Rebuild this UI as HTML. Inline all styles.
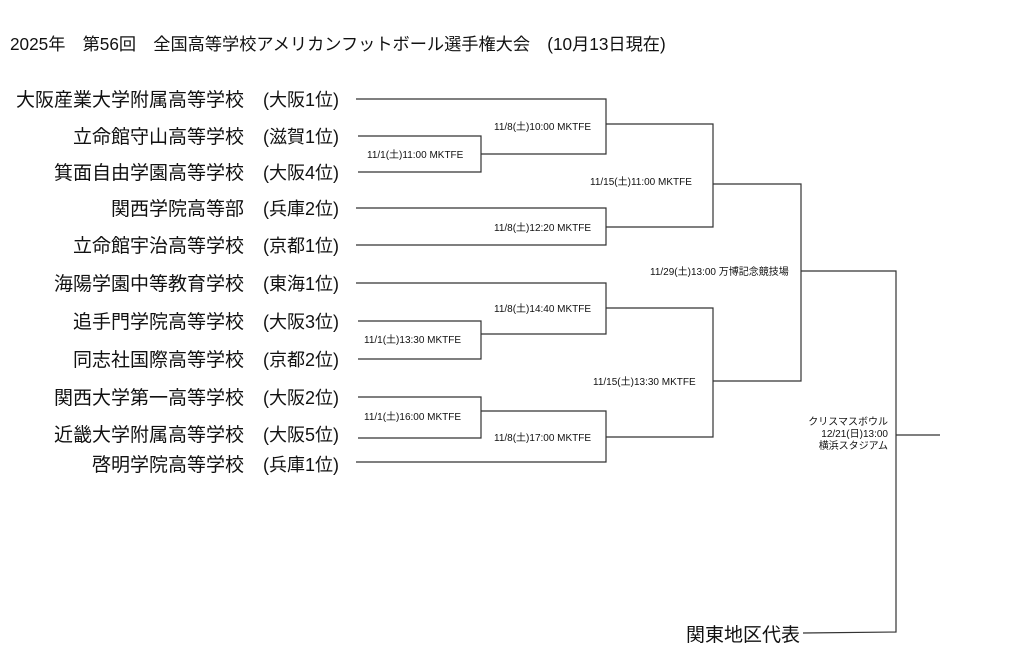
<!DOCTYPE html>
<html><head><meta charset="utf-8"><style>
html,body{margin:0;padding:0;background:#fff;width:1024px;height:667px;overflow:hidden}
svg{display:block}
text{font-family:"Liberation Sans","Noto Sans CJK JP",sans-serif;fill:#111}
.t{font-size:19px}
.p{font-size:18px}
.s{font-size:10px}
</style></head><body>
<svg width="1024" height="667" viewBox="0 0 1024 667">
<text x="10" y="50" font-size="17.2">2025年　第56回　全国高等学校アメリカンフットボール選手権大会　(10月13日現在)</text>
<g class="t" text-anchor="end">
<text x="244" y="106">大阪産業大学附属高等学校</text>
<text x="244" y="143">立命館守山高等学校</text>
<text x="244" y="179">箕面自由学園高等学校</text>
<text x="244" y="215">関西学院高等部</text>
<text x="244" y="252">立命館宇治高等学校</text>
<text x="244" y="290">海陽学園中等教育学校</text>
<text x="244" y="328">追手門学院高等学校</text>
<text x="244" y="366">同志社国際高等学校</text>
<text x="244" y="404">関西大学第一高等学校</text>
<text x="244" y="441">近畿大学附属高等学校</text>
<text x="244" y="471">啓明学院高等学校</text>
</g>
<g class="p">
<text x="263" y="106">(大阪1位)</text>
<text x="263" y="143">(滋賀1位)</text>
<text x="263" y="179">(大阪4位)</text>
<text x="263" y="215">(兵庫2位)</text>
<text x="263" y="252">(京都1位)</text>
<text x="263" y="290">(東海1位)</text>
<text x="263" y="328">(大阪3位)</text>
<text x="263" y="366">(京都2位)</text>
<text x="263" y="404">(大阪2位)</text>
<text x="263" y="441">(大阪5位)</text>
<text x="263" y="471">(兵庫1位)</text>
</g>
<text class="t" x="686" y="641">関東地区代表</text>
<g fill="none" stroke="#333" stroke-width="1.2">
<polyline points="356,99 606,99 606,154 481,154"/>
<polyline points="358,136 481,136 481,172 358,172"/>
<polyline points="606,124 713,124 713,227 606,227"/>
<polyline points="356,208 606,208 606,245 356,245"/>
<polyline points="713,184 801,184 801,381 713,381"/>
<polyline points="801,271 896,271 896,632 803,633"/>
<polyline points="356,283 606,283 606,334 481,334"/>
<polyline points="358,321 481,321 481,359 358,359"/>
<polyline points="606,308 713,308 713,437 606,437"/>
<polyline points="358,397 481,397 481,438 358,438"/>
<polyline points="481,411 606,411 606,462 356,462"/>
<line x1="896" y1="435" x2="940" y2="435"/>
</g>
<g class="s">
<text x="494" y="130">11/8(土)10:00 MKTFE</text>
<text x="367" y="158">11/1(土)11:00 MKTFE</text>
<text x="590" y="185">11/15(土)11:00 MKTFE</text>
<text x="494" y="231">11/8(土)12:20 MKTFE</text>
<text x="650" y="275">11/29(土)13:00 万博記念競技場</text>
<text x="494" y="312">11/8(土)14:40 MKTFE</text>
<text x="364" y="343">11/1(土)13:30 MKTFE</text>
<text x="593" y="385">11/15(土)13:30 MKTFE</text>
<text x="364" y="420">11/1(土)16:00 MKTFE</text>
<text x="494" y="441">11/8(土)17:00 MKTFE</text>
</g>
<g class="s" text-anchor="end">
<text x="888" y="425">クリスマスボウル</text>
<text x="888" y="437">12/21(日)13:00</text>
<text x="888" y="449">横浜スタジアム</text>
</g>
</svg>
</body></html>
